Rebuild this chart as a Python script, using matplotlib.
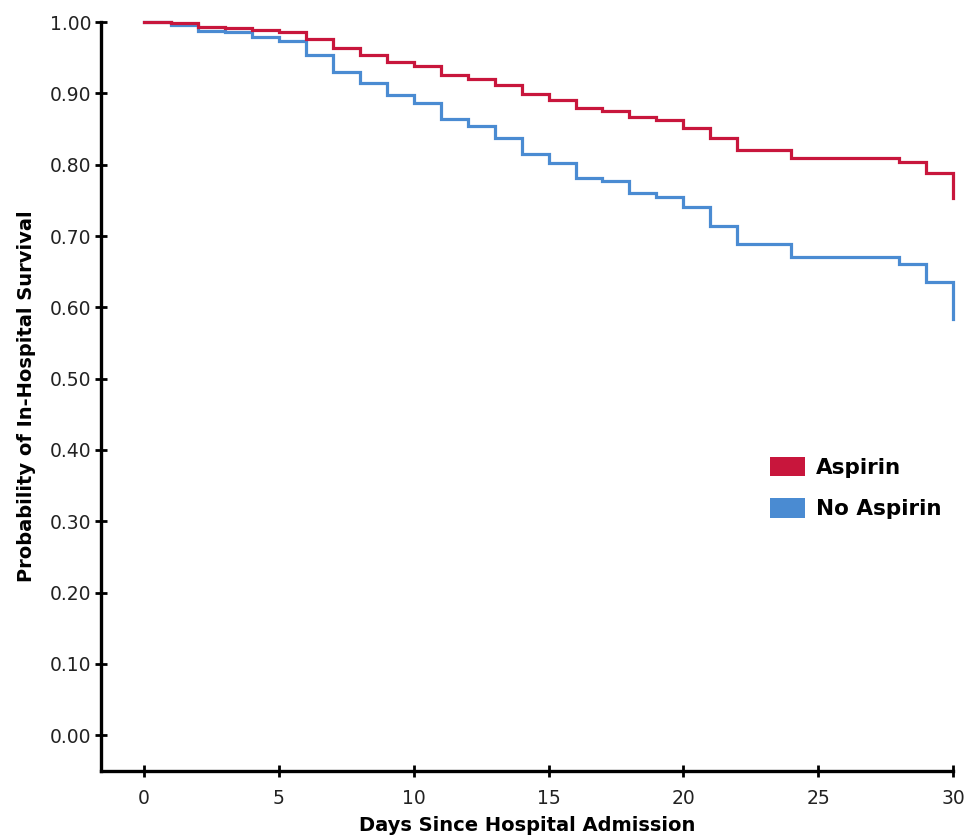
import matplotlib
matplotlib.use("Agg")
import matplotlib.pyplot as plt
from matplotlib.patches import Patch

days = list(range(0, 31))
aspirin = [1.000, 0.998, 0.993, 0.992, 0.989, 0.986, 0.976, 0.963, 0.954, 0.944,
           0.939, 0.926, 0.920, 0.912, 0.899, 0.891, 0.879, 0.875, 0.867, 0.862,
           0.852, 0.838, 0.821, 0.821, 0.810, 0.810, 0.810, 0.810, 0.804, 0.789,
           0.753]
no_aspirin = [1.000, 0.996, 0.988, 0.986, 0.979, 0.974, 0.954, 0.930, 0.915, 0.898,
              0.886, 0.864, 0.854, 0.837, 0.815, 0.802, 0.782, 0.777, 0.761, 0.755,
              0.740, 0.714, 0.689, 0.689, 0.671, 0.671, 0.671, 0.671, 0.661, 0.636,
              0.584]
series_labels = ["Aspirin", "No Aspirin"]
x_ticks = [0, 5, 10, 15, 20, 25, 30]
y_ticks = [0.0, 0.1, 0.2, 0.3, 0.4, 0.5, 0.6, 0.7, 0.8, 0.9, 1.0]

RED = "#C8163C"
BLUE = "#4A8BD2"

plt.rcParams['font.family'] = ['DejaVu Sans']

fig = plt.figure(figsize=(9.69, 8.38), dpi=100)
ax = fig.add_axes([0.1042, 0.0800, 0.8793, 0.8937])

ax.plot(days, no_aspirin, drawstyle='steps-post', color=BLUE, lw=2.3,
        solid_joinstyle='miter', clip_on=False)
ax.plot(days, aspirin, drawstyle='steps-post', color=RED, lw=2.3,
        solid_joinstyle='miter', clip_on=False)

ax.set_xlim(-1.6, 30)
ax.set_ylim(-0.05, 1.0)
ax.set_xticks(x_ticks)
ax.set_yticks(y_ticks)
ax.set_yticklabels([f"{v:.2f}" for v in y_ticks])

for s in ['top', 'right']:
    ax.spines[s].set_visible(False)
for s in ['left', 'bottom']:
    ax.spines[s].set_linewidth(2.4)
    ax.spines[s].set_color('black')

ax.tick_params(axis='both', direction='inout', length=8, width=2.0, colors='black',
               labelsize=13.5, labelcolor='#222222')
ax.tick_params(axis='x', pad=9)
ax.tick_params(axis='y', pad=3)

ax.set_xlabel("Days Since Hospital Admission", fontsize=14, fontweight='bold', labelpad=6)
ax.set_ylabel("Probability of In-Hospital Survival", fontsize=14, fontweight='bold', labelpad=10)

handles = [Patch(facecolor=RED, edgecolor='none'), Patch(facecolor=BLUE, edgecolor='none')]
leg = fig.legend(handles, series_labels, loc='upper left', bbox_to_anchor=(0.7833, 0.4677),
                 frameon=False, borderpad=0, handlelength=1.65, handleheight=1.0,
                 handletextpad=0.5, labelspacing=0.95,
                 prop={'size': 15.5, 'weight': 'bold'})

fig.savefig("out.png", dpi=100)
